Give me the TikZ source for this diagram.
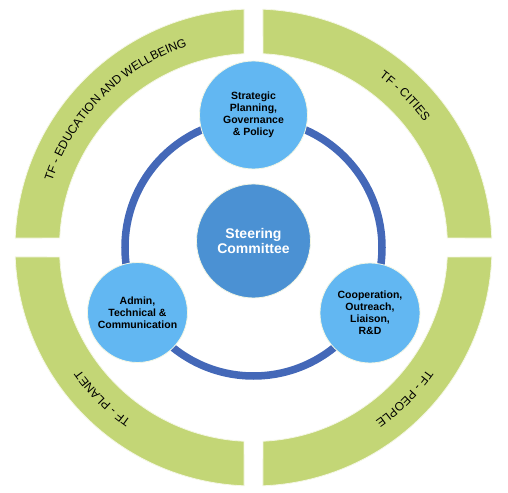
\documentclass[tikz,border=0pt]{standalone}
\usepackage{fontspec}
\setmainfont{Liberation Sans}
\usetikzlibrary{decorations.text}
\definecolor{tfgreen}{HTML}{C3D676}
\definecolor{lightblue}{HTML}{62B7F2}
\definecolor{steerblue}{HTML}{4B91D3}
\definecolor{ringblue}{HTML}{4468B8}
\definecolor{paleedge}{HTML}{F4F7E4}
\begin{document}
\begin{tikzpicture}[x=1pt,y=1pt,
  quadrant/.style={fill=tfgreen, draw=paleedge, line width=0.8pt},
  subunit/.style={circle, fill=lightblue, draw=paleedge, line width=0.8pt,
    minimum size=100pt, inner sep=0pt, align=center,
    font=\bfseries\fontsize{10.5}{12}\selectfont},
  steer/.style={circle, fill=steerblue, draw=paleedge, line width=0.8pt,
    minimum size=114pt, inner sep=0pt, align=center, text=white,
    font=\bfseries\fontsize{14}{15}\selectfont},
  ringstyle/.style={circle, draw=ringblue, line width=7.5pt, minimum size=257pt, inner sep=0pt},
  arclabel/.style={decorate, decoration={text along path, text align=center, text={#1}}}
]
\useasboundingbox (-253.5,-244.5) rectangle (254.5,247.5);
\fill[white] (-253.5,-244.5) rectangle (254.5,247.5);

% green quadrant arcs
\foreach \r in {0,90,180,270}{
  \path[quadrant, rotate=\r] (87.72:238.5) arc[start angle=87.72, end angle=2.28, radius=238.5]
    -- (2.81:194) arc[start angle=2.81, end angle=87.19, radius=194] -- cycle;
}

% labels along arcs
\path[arclabel={|\fontsize{12}{12}\selectfont|TF - EDUCATION AND WELLBEING}]
  (175:212) arc[start angle=175, end angle=95, radius=212];
\path[arclabel={|\fontsize{12}{12}\selectfont|TF - CITIES}]
  (85:212) arc[start angle=85, end angle=5, radius=212];
\path[arclabel={|\fontsize{12}{12}\selectfont|TF - PEOPLE}]
  (-5:212) arc[start angle=-5, end angle=-85, radius=212];
\path[arclabel={|\fontsize{12}{12}\selectfont|TF - PLANET}]
  (265:212) arc[start angle=265, end angle=185, radius=212];

% blue ring
\node[ringstyle] (ring) at (0,0) {};

% circles
\node[steer] (steering) at (0,6.5) {Steering\\Committee};
\node[subunit, minimum size=108pt] (strategic) at (0,132.5) {Strategic\\Planning,\\Governance\\\& Policy};
\node[subunit] (admin) at (-116,-65) {Admin,\\Technical \&\\Communication};
\node[subunit] (coop) at (116.5,-65.5) {Cooperation,\\Outreach,\\Liaison,\\R\&D};
\end{tikzpicture}
\end{document}
